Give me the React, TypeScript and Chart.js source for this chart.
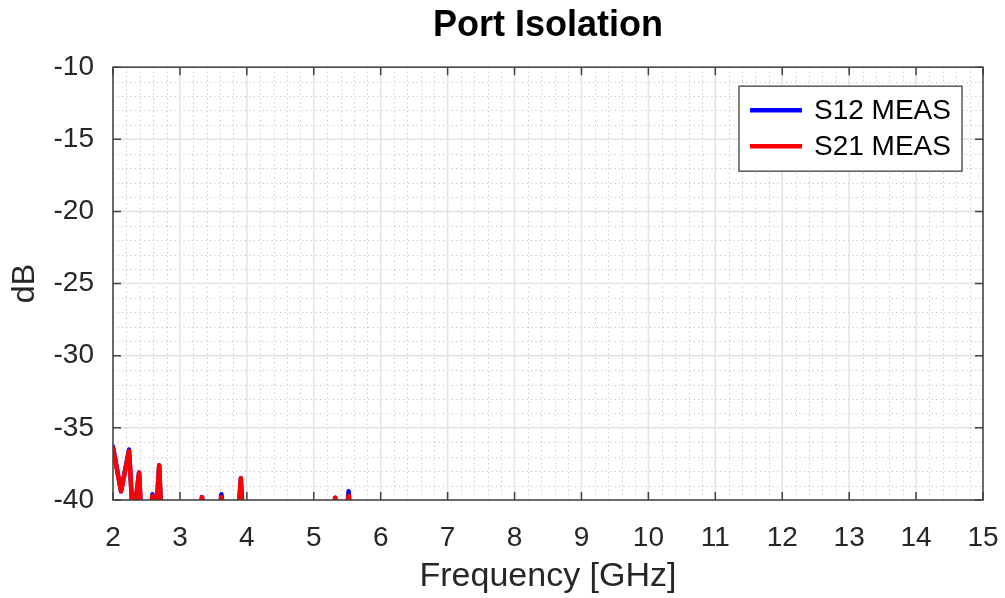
import React, { useEffect, useRef } from "react";
import { Chart, registerables } from "chart.js";

Chart.register(...registerables);

// ---- data ----
const freqGHz = [
  2.0, 2.12, 2.24, 2.3, 2.39, 2.43, 2.54, 2.59, 2.63, 2.69, 2.73, 3.27, 3.33, 3.39,
  3.56, 3.62, 3.68, 3.86, 3.91, 3.95, 5.26, 5.32, 5.38, 5.47, 5.52, 5.57, 15.0,
];
const s12Meas = [
  -36.3, -39.4, -36.5, -41.5, -38.1, -42, -42, -39.6, -42, -37.6, -42, -42, -39.8, -42,
  -42, -39.6, -42, -42, -38.5, -42, -42, -39.85, -42, -42, -39.4, -42, -42,
];
const s21Meas = [
  -36.4, -39.4, -36.6, -41.5, -38.1, -42, -42, -39.7, -42, -37.6, -42, -42, -39.8, -42,
  -42, -39.8, -42, -42, -38.5, -42, -42, -39.85, -42, -42, -39.7, -42, -42,
];
const seriesLabels = ["S12 MEAS", "S21 MEAS"];
const seriesColors = ["#0000ff", "#ff0000"];
const xMajorTicks = [2, 3, 4, 5, 6, 7, 8, 9, 10, 11, 12, 13, 14, 15];
const yMajorTicks = [-40, -35, -30, -25, -20, -15, -10];

const FONT = "'Liberation Sans', Arial, Helvetica, sans-serif";
const TEXT = "#262626";

const gridPlugin = {
  id: "octaveGrid",
  beforeDatasetsDraw(chart: any) {
    const { ctx, chartArea: a, scales } = chart;
    const xs = scales.x;
    const ys = scales.y;
    ctx.save();
    // minor dotted
    ctx.strokeStyle = "#c4c4c4";
    ctx.lineWidth = 1;
    ctx.setLineDash([1.2, 3.2]);
    for (let i = 0; i < xMajorTicks.length - 1; i++) {
      for (let k = 1; k < 5; k++) {
        const v = xMajorTicks[i] + (k * (xMajorTicks[i + 1] - xMajorTicks[i])) / 5;
        const px = Math.round(xs.getPixelForValue(v)) + 0.5;
        ctx.beginPath();
        ctx.moveTo(px, a.top);
        ctx.lineTo(px, a.bottom);
        ctx.stroke();
      }
    }
    for (let i = 0; i < yMajorTicks.length - 1; i++) {
      for (let k = 1; k < 5; k++) {
        const v = yMajorTicks[i] + (k * (yMajorTicks[i + 1] - yMajorTicks[i])) / 5;
        const py = Math.round(ys.getPixelForValue(v)) + 0.5;
        ctx.beginPath();
        ctx.moveTo(a.left, py);
        ctx.lineTo(a.right, py);
        ctx.stroke();
      }
    }
    // major solid
    ctx.setLineDash([]);
    ctx.strokeStyle = "#e3e3e3";
    ctx.lineWidth = 1.5;
    xMajorTicks.forEach((v) => {
      const px = xs.getPixelForValue(v);
      ctx.beginPath();
      ctx.moveTo(px, a.top);
      ctx.lineTo(px, a.bottom);
      ctx.stroke();
    });
    yMajorTicks.forEach((v) => {
      const py = ys.getPixelForValue(v);
      ctx.beginPath();
      ctx.moveTo(a.left, py);
      ctx.lineTo(a.right, py);
      ctx.stroke();
    });
    ctx.restore();
  },
  afterDatasetsDraw(chart: any) {
    const { ctx, chartArea: a, scales } = chart;
    const xs = scales.x;
    const ys = scales.y;
    ctx.save();
    ctx.strokeStyle = "#404040";
    ctx.lineWidth = 1.5;
    const tl = 8;
    xMajorTicks.forEach((v) => {
      const px = xs.getPixelForValue(v);
      ctx.beginPath();
      ctx.moveTo(px, a.bottom);
      ctx.lineTo(px, a.bottom - tl);
      ctx.moveTo(px, a.top);
      ctx.lineTo(px, a.top + tl);
      ctx.stroke();
    });
    yMajorTicks.forEach((v) => {
      const py = ys.getPixelForValue(v);
      ctx.beginPath();
      ctx.moveTo(a.left, py);
      ctx.lineTo(a.left + tl, py);
      ctx.moveTo(a.right, py);
      ctx.lineTo(a.right - tl, py);
      ctx.stroke();
    });
    ctx.strokeRect(a.left, a.top, a.right - a.left, a.bottom - a.top);
    ctx.restore();
  },
  afterDraw(chart: any) {
    const { ctx, chartArea: a } = chart;
    ctx.save();
    const bw = 223;
    const bh = 85;
    const bx = a.right - 21 - bw;
    const by = a.top + 19;
    ctx.fillStyle = "#ffffff";
    ctx.fillRect(bx, by, bw, bh);
    ctx.strokeStyle = "#5a5a5a";
    ctx.lineWidth = 1.5;
    ctx.strokeRect(bx, by, bw, bh);
    ctx.font = `28px ${FONT}`;
    ctx.textBaseline = "middle";
    ctx.textAlign = "left";
    const rows = [by + 24, by + 60];
    seriesLabels.forEach((lab, i) => {
      ctx.strokeStyle = seriesColors[i];
      ctx.lineWidth = 4.5;
      ctx.beginPath();
      ctx.moveTo(bx + 11, rows[i]);
      ctx.lineTo(bx + 63, rows[i]);
      ctx.stroke();
      ctx.fillStyle = "#000";
      ctx.fillText(lab, bx + 75, rows[i] + 1);
    });
    ctx.restore();
  },
};

export default function App() {
  const ref = useRef<HTMLCanvasElement | null>(null);
  useEffect(() => {
    if (!ref.current) return;
    const mk = (ys: number[]) => freqGHz.map((f, i) => ({ x: f, y: ys[i] }));
    const common = {
      borderWidth: 4.5,
      pointRadius: 0,
      tension: 0,
      clip: 0,
      borderJoinStyle: "round",
      borderCapStyle: "round",
    };
    const chart = new Chart(ref.current, {
      type: "line",
      data: {
        datasets: [
          {
            ...common,
            label: seriesLabels[0],
            data: mk(s12Meas),
            borderColor: seriesColors[0],
            backgroundColor: seriesColors[0],
            order: 1,
          },
          {
            ...common,
            label: seriesLabels[1],
            data: mk(s21Meas),
            borderColor: seriesColors[1],
            backgroundColor: seriesColors[1],
            order: 0,
          },
        ] as any,
      },
      options: {
        animation: false,
        responsive: true,
        maintainAspectRatio: false,
        devicePixelRatio: 1,
        layout: { padding: { left: 0, right: 22, top: 0, bottom: 0 } },
        plugins: {
          legend: { display: false },
          tooltip: { enabled: false },
          title: {
            display: true,
            fullSize: false,
            text: "Port Isolation",
            color: "#000",
            font: { family: FONT, size: 36, weight: "bold" },
            padding: { top: 4, bottom: 20 },
          },
        },
        scales: {
          x: {
            type: "linear",
            min: 2,
            max: 15,
            afterFit: (s: any) => {
              s.height = 98;
              s.paddingLeft = 0;
              s.paddingRight = 0;
            },
            afterBuildTicks: (s: any) => {
              s.ticks = xMajorTicks.map((v) => ({ value: v }));
            },
            ticks: {
              color: TEXT,
              font: { family: FONT, size: 28 },
              padding: 21,
              maxRotation: 0,
              autoSkip: false,
            },
            grid: { drawOnChartArea: false, drawTicks: false },
            border: { display: false },
            title: {
              display: true,
              text: "Frequency [GHz]",
              color: TEXT,
              font: { family: FONT, size: 34 },
              padding: { top: 0, bottom: 1 },
            },
          },
          y: {
            type: "linear",
            min: -40,
            max: -10,
            afterFit: (s: any) => {
              s.width = 113;
              s.paddingTop = 0;
              s.paddingBottom = 0;
            },
            afterBuildTicks: (s: any) => {
              s.ticks = yMajorTicks.map((v) => ({ value: v }));
            },
            ticks: {
              color: TEXT,
              font: { family: FONT, size: 28 },
              padding: 19,
              autoSkip: false,
            },
            grid: { drawOnChartArea: false, drawTicks: false },
            border: { display: false },
            title: {
              display: true,
              text: "dB",
              color: TEXT,
              font: { family: FONT, size: 32 },
              padding: { top: 6, bottom: 0 },
            },
          },
        },
      } as any,
      plugins: [gridPlugin],
    });
    return () => chart.destroy();
  }, []);
  return (
    <div style={{ position: "fixed", left: 0, top: 0, width: 1005, height: 598, background: "#fff" }}>
      <canvas ref={ref} />
    </div>
  );
}
